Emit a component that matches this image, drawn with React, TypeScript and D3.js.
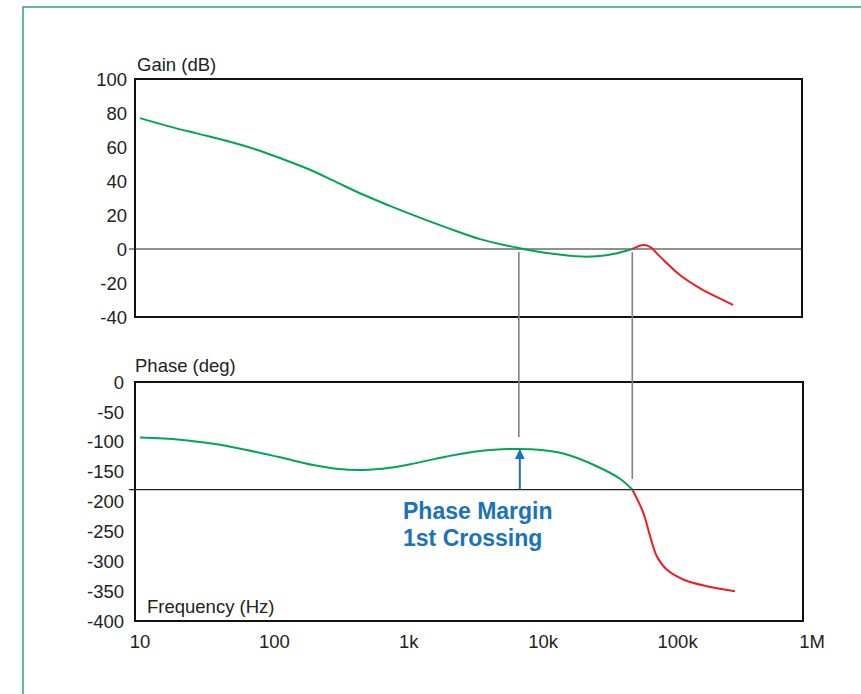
import React from 'react';
import * as d3 from 'd3';

// bode plot values
const gainFreq = [10, 16.7, 26.4, 46.8, 73.8, 110, 184, 291, 459, 724, 1021, 1914, 3386, 6720, 10600, 21070, 33250, 46000, 55600, 62400, 74000, 104000, 147000, 259000];
const gainDb = [77, 72, 68, 63.1, 58.4, 53.5, 46.6, 39.2, 31.9, 25.4, 20.7, 12.6, 5.8, 0.4, -2.4, -4.5, -2.9, 0, 2.4, 1.3, -4.5, -15.3, -23.1, -32.9];

const phaseFreq = [10, 19.8, 35.1, 62.2, 110, 194.5, 291, 459, 724, 1080, 1914, 3386, 6000, 7980, 14120, 25000, 37250, 46000, 55600, 62400, 70000, 83000, 110000, 164700, 267000];
const phaseDeg = [-93, -96.5, -103.5, -113.8, -126.1, -139, -145.3, -147.3, -143.5, -136.6, -124.6, -115.5, -112.1, -112.6, -119.8, -141, -162, -180, -219, -258, -291.7, -314, -330.5, -341.8, -350.2];

const crossFreq = 46000; // gain crosses 0 dB here (2nd crossing)
const firstCross = 6700; // 1st 0 dB crossing
const pmFreq = 6700;

const freqTicks = [10, 100, 1e3, 1e4, 1e5, 1e6];
const freqLabels = ['10', '100', '1k', '10k', '100k', '1M'];
const gainTicks = [100, 80, 60, 40, 20, 0, -20, -40];
const phaseTicks = [0, -50, -100, -150, -200, -250, -300, -350, -400];

const GREEN = '#00a651';
const RED = '#ee1c25';
const BLUE = '#1a73ba';
const FONT = '"Liberation Sans", Arial, Helvetica, sans-serif';

export default function App() {
  const width = 861;
  const height = 694;

  const x = d3.scaleLog().domain([10, 1e6]).range([140, 812]);
  const yGain = d3.scaleLinear().domain([-40, 100]).range([317, 79]);
  const yPhase = d3.scaleLinear().domain([-400, 0]).range([621, 382]);

  const gainPts = gainFreq.map((f, i) => [f, gainDb[i]]);
  const phasePts = phaseFreq.map((f, i) => [f, phaseDeg[i]]);

  const gainLine = d3.line<number[]>()
    .x(d => x(d[0]))
    .y(d => yGain(d[1]))
    .curve(d3.curveCatmullRom.alpha(0.5));
  const phaseLine = d3.line<number[]>()
    .x(d => x(d[0]))
    .y(d => yPhase(d[1]))
    .curve(d3.curveCatmullRom.alpha(0.5));

  const gainGreen = gainPts.filter(d => d[0] <= crossFreq);
  const gainRed = gainPts.filter(d => d[0] >= crossFreq);
  const phaseGreen = phasePts.filter(d => d[0] <= crossFreq);
  const phaseRed = phasePts.filter(d => d[0] >= crossFreq);

  // phase value at the first crossing, for the arrow tip
  const pmPhase = d3.scaleLog().domain(phaseFreq).range(phaseDeg)(pmFreq);

  const gx0 = 135, gx1 = 802;
  const px0 = 135, px1 = 803;

  return (
    <svg width={width} height={height}
      style={{ position: 'absolute', left: 0, top: 0, display: 'block', background: '#fff' }}
      fontFamily={FONT}>
      <defs>
        <marker id="arr" viewBox="0 0 10 10" refX="9" refY="5" markerWidth="5" markerHeight="5" orient="auto">
          <path d="M0,0 L10,5 L0,10 z" fill={BLUE} />
        </marker>
      </defs>

      {/* outer frame */}
      <rect x={23} y={7} width={900} height={800} fill="none" stroke="#3aaa78" strokeWidth={1.6} />

      {/* gain panel */}
      <rect x={gx0} y={yGain(100)} width={gx1 - gx0} height={yGain(-40) - yGain(100)}
        fill="none" stroke="#111" strokeWidth={2} />
      <line x1={129} x2={gx1} y1={yGain(0)} y2={yGain(0)} stroke="#222" strokeWidth={1.2} />
      {gainTicks.map(t => (
        <text key={t} x={127} y={yGain(t)} dy="0.36em" textAnchor="end" fontSize={18.5} fill="#222">{t}</text>
      ))}
      <text x={137} y={71} fontSize={18.5} fill="#222">Gain (dB)</text>

      {/* phase panel */}
      <rect x={px0} y={yPhase(0)} width={px1 - px0} height={yPhase(-400) - yPhase(0)}
        fill="none" stroke="#111" strokeWidth={2} />
      <line x1={129} x2={px1} y1={yPhase(-180)} y2={yPhase(-180)} stroke="#222" strokeWidth={1.2} />
      {phaseTicks.map(t => (
        <text key={t} x={124} y={yPhase(t)} dy="0.36em" textAnchor="end" fontSize={18.5} fill="#222">{t}</text>
      ))}
      <text x={135} y={372} fontSize={18.5} fill="#222">Phase (deg)</text>
      <text x={147} y={613} fontSize={18.5} fill="#222">Frequency (Hz)</text>

      {freqTicks.map((t, i) => (
        <text key={t} x={x(t)} y={648} textAnchor="middle" fontSize={18.5} fill="#222">{freqLabels[i]}</text>
      ))}

      {/* crossing markers */}
      <line x1={x(firstCross) - 1} x2={x(firstCross) - 1} y1={252} y2={437} stroke="#808080" strokeWidth={1.6} />
      <line x1={x(crossFreq)} x2={x(crossFreq)} y1={252} y2={479} stroke="#808080" strokeWidth={1.6} />

      {/* curves */}
      <path d={gainLine(gainGreen) || ''} fill="none" stroke={GREEN} strokeWidth={2} />
      <path d={gainLine(gainRed) || ''} fill="none" stroke={RED} strokeWidth={2} />
      <path d={phaseLine(phaseGreen) || ''} fill="none" stroke={GREEN} strokeWidth={2} />
      <path d={phaseLine(phaseRed) || ''} fill="none" stroke={RED} strokeWidth={2} />

      {/* phase margin arrow */}
      <line x1={x(pmFreq)} x2={x(pmFreq)} y1={yPhase(-180)} y2={yPhase(pmPhase) + 1}
        stroke={BLUE} strokeWidth={2} markerEnd="url(#arr)" />
      <text x={403} y={519} fontSize={23} fontWeight="bold" fill={BLUE}>Phase Margin</text>
      <text x={403} y={546} fontSize={23} fontWeight="bold" fill={BLUE}>1st Crossing</text>
    </svg>
  );
}
